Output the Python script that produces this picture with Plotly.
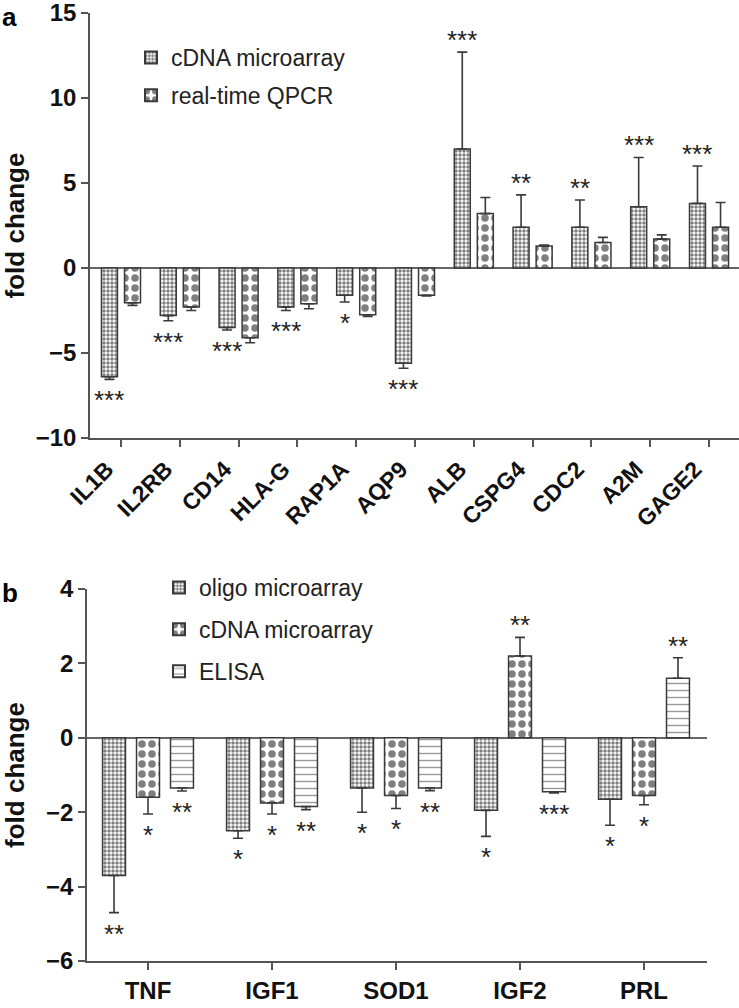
import plotly.graph_objects as go

# ---------------- data ----------------
genes_a = ["IL1B", "IL2RB", "CD14", "HLA-G", "RAP1A", "AQP9", "ALB", "CSPG4", "CDC2", "A2M", "GAGE2"]
cdna_a = [-6.4, -2.8, -3.5, -2.3, -1.6, -5.6, 7.0, 2.4, 2.4, 3.6, 3.8]
cdna_a_err = [0.15, 0.3, 0.15, 0.2, 0.4, 0.3, 5.7, 1.9, 1.6, 2.9, 2.2]
qpcr_a = [-2.05, -2.3, -4.1, -2.1, -2.75, -1.6, 3.2, 1.3, 1.5, 1.7, 2.4]
qpcr_a_err = [0.15, 0.2, 0.3, 0.3, 0.1, 0.05, 0.95, 0.05, 0.3, 0.25, 1.45]
sig_a = ["***", "***", "***", "***", "*", "***", "***", "**", "**", "***", "***"]

genes_b = ["TNF", "IGF1", "SOD1", "IGF2", "PRL"]
oligo_b = [-3.7, -2.5, -1.35, -1.95, -1.65]
oligo_b_err = [1.0, 0.2, 0.65, 0.7, 0.7]
cdna_b = [-1.6, -1.75, -1.55, 2.2, -1.55]
cdna_b_err = [0.45, 0.3, 0.35, 0.5, 0.25]
elisa_b = [-1.35, -1.85, -1.35, -1.45, 1.6]
elisa_b_err = [0.08, 0.08, 0.07, 0.03, 0.55]
sig_b_oligo = ["**", "*", "*", "*", "*"]
sig_b_cdna = ["*", "*", "*", "**", "*"]
sig_b_elisa = ["**", "**", "**", "***", "**"]

yticks_a = [-10, -5, 0, 5, 10, 15]
yticks_b = [-6, -4, -2, 0, 2, 4]

# ---------------- style ----------------
W, H = 739, 1008
FONT = "Liberation Sans, Arial, Helvetica, sans-serif"
EDGE = "#3a3a3a"
AXC = "#555555"

PAT_FINE = dict(shape=".", size=4, solidity=0.6, fgcolor="black", bgcolor="white")
PAT_CHECK = dict(shape=".", size=10, solidity=0.45, fgcolor="black", bgcolor="white")
PAT_LINES = dict(shape="-", size=7, solidity=0.2, fgcolor="#333333", bgcolor="white")


def err(vals, errs):
    plus = [e if v > 0 else 0 for v, e in zip(vals, errs)]
    minus = [e if v < 0 else 0 for v, e in zip(vals, errs)]
    return dict(type="data", symmetric=False, array=plus, arrayminus=minus,
                color=EDGE, thickness=1.6, width=5)


def bar(name, cats, vals, errs, pat, off, w, xa, ya, leg, grp):
    return go.Bar(
        name=name, x=cats, y=vals, offset=off, width=w,
        marker=dict(color="white", line=dict(color=EDGE, width=1.5), pattern=pat),
        error_y=err(vals, errs), xaxis=xa, yaxis=ya, legend=leg, legendgroup=grp,
    )


fig = go.Figure()
WA = 0.272
fig.add_trace(bar("cDNA microarray", genes_a, cdna_a, cdna_a_err, PAT_FINE, -0.196 - WA / 2, WA, "x", "y", "legend", "a1"))
fig.add_trace(bar("real-time QPCR", genes_a, qpcr_a, qpcr_a_err, PAT_CHECK, 0.196 - WA / 2, WA, "x", "y", "legend", "a2"))

WB = 0.185
fig.add_trace(bar("oligo microarray", genes_b, oligo_b, oligo_b_err, PAT_FINE, -0.274 - WB / 2, WB, "x2", "y2", "legend2", "b1"))
fig.add_trace(bar("cDNA microarray", genes_b, cdna_b, cdna_b_err, PAT_CHECK, 0.0 - WB / 2, WB, "x2", "y2", "legend2", "b2"))
fig.add_trace(bar("ELISA", genes_b, elisa_b, elisa_b_err, PAT_LINES, 0.274 - WB / 2, WB, "x2", "y2", "legend2", "b3"))

# significance stars
ann = []
STAR = dict(family=FONT, size=26, color="#222222")


def stars(sig, vals, errs, dx, xref, yref):
    for i, (s, v, e) in enumerate(zip(sig, vals, errs)):
        if not s:
            continue
        end = v + e if v > 0 else v - e
        ann.append(dict(x=i + dx, y=end, xref=xref, yref=yref, text=s, showarrow=False,
                        font=STAR, xanchor="center", yanchor="middle",
                        yshift=12 if v > 0 else -21))


stars(sig_a, cdna_a, cdna_a_err, -0.196, "x", "y")
stars(sig_b_oligo, oligo_b, oligo_b_err, -0.274, "x2", "y2")
stars(sig_b_cdna, cdna_b, cdna_b_err, 0.0, "x2", "y2")
stars(sig_b_elisa, elisa_b, elisa_b_err, 0.274, "x2", "y2")

ann.append(dict(x=0.0, y=1.0, xref="paper", yref="paper", text="<b>a</b>", showarrow=False,
                xanchor="left", yanchor="top", font=dict(family=FONT, size=26, color="black")))
ann.append(dict(x=0.0, y=1 - 576 / H, xref="paper", yref="paper", text="<b>b</b>", showarrow=False,
                xanchor="left", yanchor="top", font=dict(family=FONT, size=26, color="black")))

TICKF = dict(family=FONT, size=24, color="#111111", weight="bold")
TITLEF = dict(family=FONT, size=26, color="#111111", weight="bold")

yax_common = dict(showline=True, linecolor=AXC, linewidth=1.5, ticks="outside", ticklen=7,
                  tickcolor=AXC, tickwidth=1.5, showgrid=False, zeroline=True,
                  zerolinecolor="#666666", zerolinewidth=1.5, tickfont=TICKF,
                  automargin=False, ticklabeloverflow="allow")
xax_common = dict(type="category", showline=True, linecolor=AXC, linewidth=1.5, ticks="outside",
                  ticklen=7, tickcolor=AXC, tickwidth=1.5, showgrid=False, zeroline=False,
                  automargin=False)

fig.update_layout(
    width=W, height=H,
    margin=dict(l=0, r=0, t=0, b=0),
    paper_bgcolor="white", plot_bgcolor="white",
    barmode="overlay",
    font=dict(family=FONT),
    xaxis=dict(**xax_common, domain=[90 / W, 1.0], range=[-0.527, 10.51], anchor="y",
               tickangle=-45, ticklabelshift=-14,
               tickfont=dict(family=FONT, size=23, color="#111111", weight="bold")),
    yaxis=dict(**yax_common, domain=[1 - 438 / H, 1 - 13 / H], range=[-10, 15],
               tickvals=yticks_a, anchor="x",
               title=dict(text="fold change", font=TITLEF, standoff=19)),
    xaxis2=dict(**xax_common, domain=[87 / W, 707 / W], range=[-0.492, 4.508], anchor="y2",
                tickfont=dict(family=FONT, size=24, color="#111111", weight="bold")),
    yaxis2=dict(**yax_common, domain=[1 - 961 / H, 1 - 589 / H], range=[-6, 4],
                tickvals=yticks_b, anchor="x2",
                title=dict(text="fold change", font=TITLEF, standoff=19)),
    legend=dict(x=131 / W, y=1 - 36 / H, xanchor="left", yanchor="top",
                font=dict(family=FONT, size=23, color="#222222"), bgcolor="rgba(0,0,0,0)",
                tracegroupgap=5, itemsizing="constant"),
    legend2=dict(x=159 / W, y=1 - 566 / H, xanchor="left", yanchor="top",
                 font=dict(family=FONT, size=23, color="#222222"), bgcolor="rgba(0,0,0,0)",
                 tracegroupgap=9, itemsizing="constant"),
    showlegend=True,
    annotations=ann,
)

# remove the browser's default 8px body margin so the figure fills the window
fig.write_html("out.html", config={"displayModeBar": False},
               post_script="document.body.style.margin='0';document.body.style.overflow='hidden';")
